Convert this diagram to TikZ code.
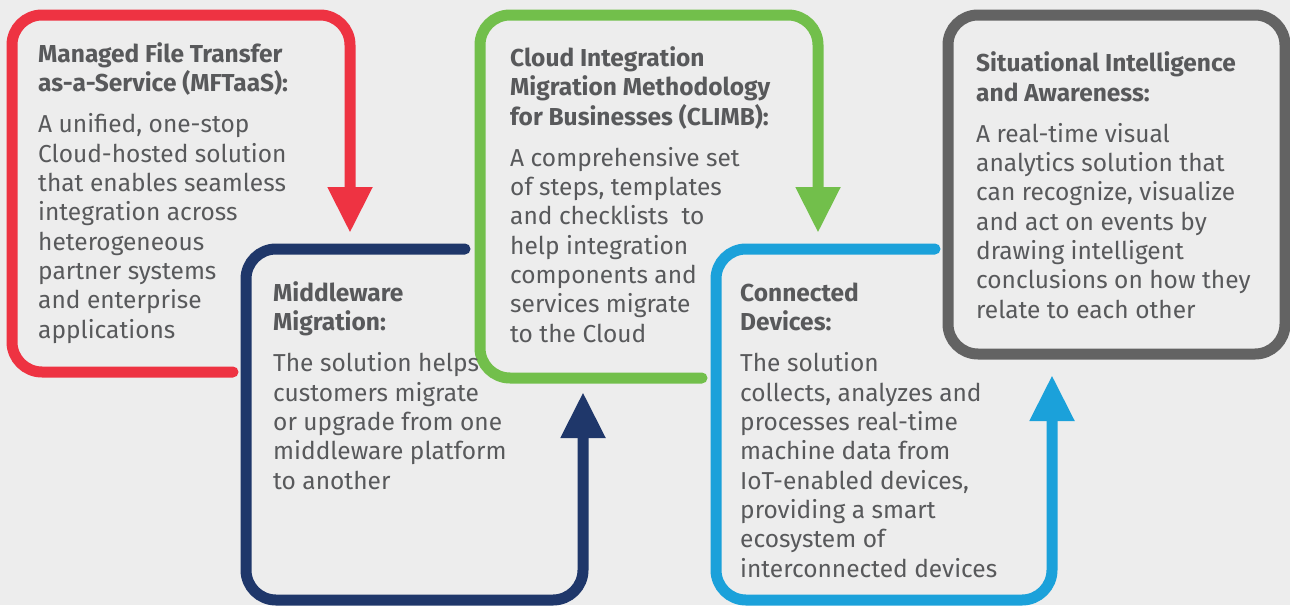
\documentclass[tikz,border=0pt]{standalone}
\usepackage{fontspec}
\setmainfont{Fira Sans}
\usepackage{tikz}
\usetikzlibrary{arrows.meta}

\definecolor{bgcol}{HTML}{EDEDED}
\definecolor{txtcol}{HTML}{58595B}
\definecolor{redcol}{HTML}{EE3342}
\definecolor{navycol}{HTML}{1F376A}
\definecolor{greencol}{HTML}{72BF4B}
\definecolor{cyancol}{HTML}{1BA1DA}
\definecolor{greycol}{HTML}{636363}

\begin{document}
\begin{tikzpicture}[x=1pt,y=-1pt,
        loop/.style = {line width=11pt, rounded corners=30pt, line cap=round,
                       -{Triangle[length=46pt,width=42pt]}},
        frame/.style = {line width=11pt, rounded corners=30pt},
        info/.style = {anchor=base west, inner sep=0pt, align=left, text=txtcol,
                       font=\fontsize{24.5}{29.3}\selectfont},
        ]
        \fill[bgcol] (0,0) rectangle (1290,605);
        \useasboundingbox (0,0) rectangle (1290,605);
        % the five loops
        \draw[loop, redcol] (233,372) -- (12,372) -- (12,15) -- (350,15) -- (350,233);
        \draw[loop, navycol] (465,249) -- (246,249) -- (246,600) -- (583,600) -- (583,392);
        \draw[loop, greencol] (702,378) -- (480,378) -- (480,15) -- (818,15) -- (818,233);
        \draw[loop, cyancol] (935,249) -- (716,249) -- (716,600) -- (1052,600) -- (1052,375);
        \draw[frame, greycol] (948,15) rectangle (1285,354);
        % texts (placed at the baseline of their last line)
        \node[info] (mft) at (38,338) {\textbf{Managed File Transfer}\\\textbf{as-a-Service (MFTaaS):}\\[11.7pt]
            A unified, one-stop\\Cloud-hosted solution\\that enables seamless\\integration across\\
            heterogeneous\\partner systems\\and enterprise\\applications};
        \node[info] (mw) at (273,489) {\textbf{Middleware}\\\textbf{Migration:}\\[11.7pt]
            The solution helps\\customers migrate\\or upgrade from one\\middleware platform\\to another};
        \node[info] (climb) at (510,342) {\textbf{Cloud Integration}\\\textbf{Migration Methodology}\\\textbf{for Businesses (CLIMB):}\\[11.7pt]
            A comprehensive set\\of steps, templates\\and checklists~ to\\help integration\\
            components and\\services migrate\\to the Cloud};
        \node[info] (dev) at (740,577) {\textbf{Connected}\\\textbf{Devices:}\\[11.7pt]
            The solution\\collects, analyzes and\\processes real-time\\machine data from\\
            IoT-enabled devices,\\providing a smart\\ecosystem of\\interconnected devices};
        \node[info] (sia) at (976,318) {\textbf{Situational Intelligence}\\\textbf{and Awareness:}\\[11.7pt]
            A real-time visual\\analytics solution that\\can recognize, visualize\\and act on events by\\
            drawing intelligent\\conclusions on how they\\relate to each other};
    \end{tikzpicture}
\end{document}
